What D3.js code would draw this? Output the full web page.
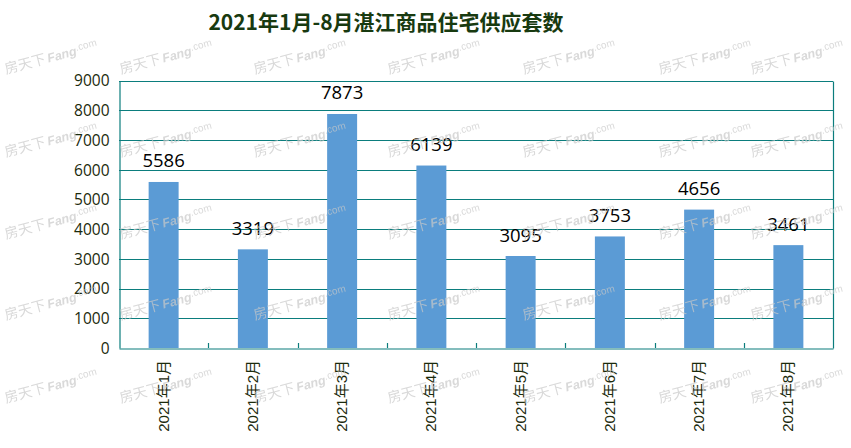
<!DOCTYPE html>
<html><head><meta charset="utf-8">
<script src="https://cdn.jsdelivr.net/npm/d3@7"></script>
<style>body{margin:0;background:#fff}svg{display:block}</style>
</head><body>
<svg id="c" width="851" height="448"></svg>
<script>
const categories = ["2021年1月","2021年2月","2021年3月","2021年4月","2021年5月","2021年6月","2021年7月","2021年8月"];
const values = [5586, 3319, 7873, 6139, 3095, 3753, 4656, 3461];
const yTicks = [0,1000,2000,3000,4000,5000,6000,7000,8000,9000];
const title = "2021年1月-8月湛江商品住宅供应套数";
const watermark = ["房天下", "Fang", ".com"];

const svg = d3.select("#c");
const M = {left:119, right:833, top:80.5, bottom:348};
const teal = "#0b7d7d";
const x = d3.scaleBand().domain(categories).range([M.left, M.right]).paddingInner(0.664).paddingOuter(0.332);
const xb = d3.scaleBand().domain(categories).range([M.left, M.right]);
const y = d3.scaleLinear().domain([0, 9000]).range([M.bottom, M.top]);

svg.append("text").attr("x", 386).attr("y", 30).attr("text-anchor","middle")
  .attr("font-family","'Noto Sans CJK SC', sans-serif").attr("font-weight","bold")
  .attr("font-size", 21).attr("fill","#183a10").text(title);

// gridlines
const grid = svg.append("g");
grid.selectAll("line").data(yTicks.filter(d=>d>0)).join("line")
  .attr("x1", M.left).attr("x2", M.right)
  .attr("y1", d=>Math.round(y(d))+0.5).attr("y2", d=>Math.round(y(d))+0.5)
  .attr("stroke", teal).attr("stroke-width", 1.2);
// right border
svg.append("line").attr("x1", M.right+0.5).attr("x2", M.right+0.5)
  .attr("y1", Math.round(y(9000))+0.5).attr("y2", M.bottom+0.5).attr("stroke", teal).attr("stroke-width",1.2);

// bars
svg.append("g").selectAll("rect").data(values).join("rect")
  .attr("x", (d,i)=>x(categories[i])).attr("width", x.bandwidth())
  .attr("y", d=>y(d)).attr("height", d=>y(0)-y(d)).attr("fill","#5b9bd5");

// data labels
svg.append("g").selectAll("text").data(values).join("text")
  .attr("x", (d,i)=>x(categories[i])+x.bandwidth()/2).attr("y", d=>y(d)-14.5)
  .attr("text-anchor","middle").attr("font-family","'Open Sans', sans-serif")
  .attr("font-size", 18.5).attr("fill","#000").text(d=>d);

// y axis
const ya = svg.append("g").attr("transform", `translate(${M.left+0.5},0)`)
  .call(d3.axisLeft(y).tickValues(yTicks).tickSize(0).tickPadding(10).tickFormat(d3.format("d")));
ya.select(".domain").attr("stroke", teal).attr("stroke-width",1.2);
ya.selectAll("text").attr("font-family","'Open Sans', sans-serif").attr("font-size", 15.5).attr("fill","#1b2a0c").attr("dy","0.35em");

// x axis
const xa = svg.append("g").attr("transform", `translate(0,${M.bottom+0.5})`)
  .call(d3.axisBottom(xb).tickSize(0).tickFormat(""));
xa.select(".domain").attr("stroke", teal).attr("stroke-width",1.2);
// boundary ticks (upward)
svg.append("g").selectAll("line").data(categories.slice(1)).join("line")
  .attr("x1", d=>Math.round(xb(d))+0.5).attr("x2", d=>Math.round(xb(d))+0.5)
  .attr("y1", M.bottom-5).attr("y2", M.bottom).attr("stroke", teal).attr("stroke-width",1.2);
// x labels
svg.append("g").selectAll("text").data(categories).join("text")
  .attr("transform", d=>`translate(${xb(d)+xb.bandwidth()/2+5},360) rotate(-90)`)
  .attr("text-anchor","end").attr("font-family","'Liberation Sans','Noto Sans CJK SC', sans-serif")
  .attr("font-size", 15).attr("fill","#1b2a0c").text(d=>d);

// watermark (faint, repeated)
const wmX = [6,121,255,389,524,660,752];
const wmY = [74,157,239,320,403];
const wm = svg.append("g").attr("fill","#c9c9c9").attr("opacity",0.7);
wmY.forEach(yy=>wmX.forEach(xx=>{
  const t = wm.append("text").attr("transform",`translate(${xx},${yy}) rotate(-15)`)
    .attr("font-family","'Noto Sans CJK SC', sans-serif").attr("font-size",14);
  t.append("tspan").text(watermark[0]);
  t.append("tspan").attr("font-family","'Liberation Sans', sans-serif").attr("font-style","italic").attr("font-weight","bold").attr("font-size",12.5).attr("dx",2).text(watermark[1]);
  t.append("tspan").attr("font-family","'Liberation Sans', sans-serif").attr("font-size",10).attr("dy",-4).text(watermark[2]);
}));
</script>
</body></html>
